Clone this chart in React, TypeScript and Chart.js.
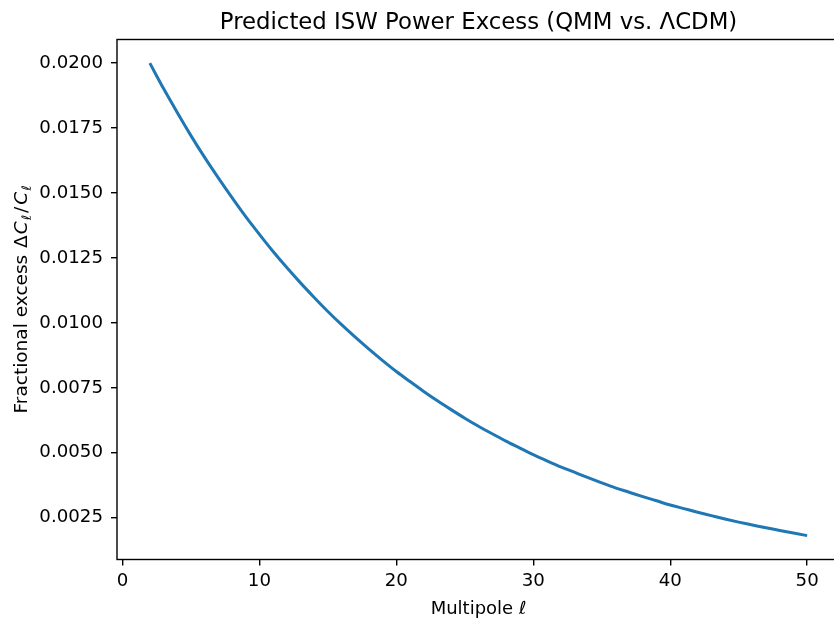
import React, { useEffect, useRef } from "react";
import { Chart, registerables } from "chart.js";

Chart.register(...registerables);

const multipoles = [
  2, 3, 4, 5, 6, 7, 8, 9, 10, 11, 12, 13, 14, 15, 16, 17, 18, 19, 20, 21, 22, 23, 24, 25, 26,
  27, 28, 29, 30, 31, 32, 33, 34, 35, 36, 37, 38, 39, 40, 41, 42, 43, 44, 45, 46, 47, 48, 49, 50,
];
const excess = [
  0.0200, 0.01902, 0.0181, 0.01721, 0.01637, 0.01558, 0.01482, 0.01409, 0.01341, 0.01275,
  0.01213, 0.01154, 0.01098, 0.01044, 0.00993, 0.00945, 0.00899, 0.00855, 0.00813, 0.00774,
  0.00736, 0.0070, 0.00666, 0.00633, 0.00602, 0.00573, 0.00545, 0.00519, 0.00493, 0.00469,
  0.00446, 0.00425, 0.00404, 0.00384, 0.00365, 0.00348, 0.00331, 0.00315, 0.00299, 0.00285,
  0.00271, 0.00258, 0.00245, 0.00233, 0.00222, 0.00211, 0.00201, 0.00191, 0.00181,
];
const xTicks = [0, 10, 20, 30, 40, 50];
const yTicks = [0.0025, 0.005, 0.0075, 0.01, 0.0125, 0.015, 0.0175, 0.02];

const titleText = "Predicted ISW Power Excess (QMM vs. ΛCDM)";
const FONT = "'DejaVu Sans', sans-serif";

type Piece = { t: string; italic?: boolean; sub?: boolean; gap?: number };

function drawPieces(ctx: CanvasRenderingContext2D, pieces: Piece[], size: number) {
  const fontFor = (p: Piece) =>
    `${p.italic ? "oblique " : ""}${p.sub ? size * 0.7 : size}px ${FONT}`;
  let total = 0;
  const widths = pieces.map((p) => {
    ctx.font = fontFor(p);
    const w = ctx.measureText(p.t).width + (p.gap || 0);
    total += w;
    return w;
  });
  let x = -total / 2;
  pieces.forEach((p, i) => {
    ctx.font = fontFor(p);
    ctx.fillText(p.t, x, p.sub ? size * 0.22 : 0);
    x += widths[i];
  });
}

const decorPlugin = {
  id: "decor",
  afterDraw(chart: any) {
    const { ctx, chartArea } = chart;
    const { left, right, top, bottom } = chartArea;
    ctx.save();
    ctx.strokeStyle = "#000";
    ctx.lineWidth = 1.4;
    ctx.strokeRect(left, top, right - left, bottom - top);
    ctx.fillStyle = "#000";
    ctx.textBaseline = "alphabetic";
    ctx.textAlign = "left";
    const cx = (left + right) / 2;
    // title
    ctx.save();
    ctx.translate(cx, top - 11);
    drawPieces(ctx, [{ t: titleText }], 22.8);
    ctx.restore();
    // x label
    ctx.save();
    ctx.translate(cx, 614);
    drawPieces(ctx, [{ t: "Multipole " }, { t: "ℓ", italic: true }], 18);
    ctx.restore();
    // y label
    ctx.save();
    ctx.translate(27, (top + bottom) / 2);
    ctx.rotate(-Math.PI / 2);
    drawPieces(
      ctx,
      [
        { t: "Fractional excess ", gap: 1 },
        { t: "Δ", gap: 1 },
        { t: "C", italic: true, gap: 1 },
        { t: "ℓ", italic: true, sub: true, gap: 2 },
        { t: "/", gap: 2 },
        { t: "C", italic: true, gap: 1 },
        { t: "ℓ", italic: true, sub: true },
      ],
      18.5
    );
    ctx.restore();
    ctx.restore();
  },
};

export default function App() {
  const ref = useRef<HTMLCanvasElement | null>(null);
  useEffect(() => {
    if (!ref.current) return;
    const chart = new Chart(ref.current, {
      type: "line",
      data: {
        datasets: [
          {
            data: multipoles.map((l, i) => ({ x: l, y: excess[i] })),
            borderColor: "#1f77b4",
            borderWidth: 3,
            pointRadius: 0,
            cubicInterpolationMode: "monotone",
            fill: false,
          },
        ],
      },
      options: {
        animation: false,
        responsive: false,
        devicePixelRatio: 1,
        layout: { padding: { top: 39.5, left: 0, right: 0, bottom: 0 } },
        plugins: {
          legend: { display: false },
          title: { display: false },
          tooltip: { enabled: false },
        },
        scales: {
          x: {
            type: "linear",
            min: -0.4,
            max: 52.4,
            afterBuildTicks: (s: any) => {
              s.ticks = xTicks.map((v) => ({ value: v }));
            },
            afterFit: (s: any) => {
              s.height = 59.5;
              s.paddingLeft = 0;
              s.paddingRight = 0;
            },
            grid: {
              drawOnChartArea: false,
              drawTicks: true,
              tickLength: 6,
              tickColor: "#000",
              lineWidth: 1.4,
            },
            border: { display: false },
            ticks: {
              color: "#000",
              font: { family: FONT, size: 18.2 },
              padding: 5,
              maxRotation: 0,
              autoSkip: false,
              callback: (v: any) => String(v),
            },
          },
          y: {
            type: "linear",
            min: 0.00089,
            max: 0.02091,
            afterBuildTicks: (s: any) => {
              s.ticks = yTicks.map((v) => ({ value: v }));
            },
            afterFit: (s: any) => {
              s.width = 117;
            },
            grid: {
              drawOnChartArea: false,
              drawTicks: true,
              tickLength: 6,
              tickColor: "#000",
              lineWidth: 1.4,
            },
            border: { display: false },
            ticks: {
              color: "#000",
              font: { family: FONT, size: 18.2 },
              padding: 8,
              autoSkip: false,
              callback: (v: any) => Number(v).toFixed(4),
            },
          },
        },
      },
      plugins: [decorPlugin],
    } as any);
    return () => chart.destroy();
  }, []);
  return (
    <div
      style={{
        position: "absolute",
        left: 0,
        top: 0,
        width: 834,
        height: 619,
        overflow: "hidden",
        background: "#fff",
      }}
    >
      <canvas ref={ref} width={840} height={619} style={{ width: 840, height: 619 }} />
    </div>
  );
}
